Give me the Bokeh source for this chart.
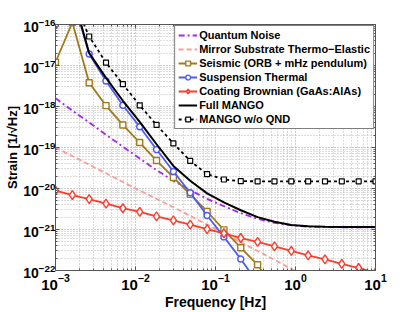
import math
from bokeh.plotting import figure
from bokeh.models import FixedTicker, LogAxis
from bokeh.embed import file_html
from bokeh.resources import INLINE

# ---- data ----
freq = [1.0e-3, 1.625e-3, 2.637e-3, 4.28e-3, 6.95e-3, 1.129e-2, 1.833e-2, 2.976e-2,
        4.83e-2, 7.85e-2, 0.1274, 0.207, 0.336, 0.546, 0.886, 1.438, 2.336, 3.79, 6.16, 10.0]

quantum = [1.6e-18, 7.9e-19, 4.1e-19, 2.04e-19, 1.05e-19, 5.4e-20, 2.8e-20, 1.55e-20,
           9.1e-21, 5.6e-21, 3.7e-21, 2.5e-21, 1.82e-21, 1.45e-21, 1.26e-21, 1.17e-21,
           1.15e-21, 1.135e-21, 1.135e-21, 1.135e-21]
thermo_elastic = [1.0e-19, 6.2e-20, 3.8e-20, 2.35e-20, 1.45e-20, 8.9e-21, 5.6e-21, 3.5e-21,
                  2.15e-21, 1.32e-21, 8.1e-22, 4.9e-22, 3.0e-22, 1.82e-22, 1.1e-22, 6.6e-23]
seismic = [1.2e-17, 1.12e-16, 3.8e-18, 1.05e-18, 3.55e-19, 1.32e-19, 4.8e-20, 1.86e-20,
           7.2e-21, 2.75e-21, 9.8e-22, 3.6e-22, 1.38e-22, 3.5e-23]
suspension = [1.0e-16, 5.0e-16, 1.9e-17, 4.2e-18, 1.07e-18, 3.2e-19, 8.9e-20, 2.6e-20,
              7.9e-21, 2.2e-21, 6.6e-22, 1.9e-22, 5.0e-23, 1.3e-23]
coating = [8.9e-21, 6.9e-21, 5.5e-21, 4.27e-21, 3.3e-21, 2.7e-21, 2.1e-21, 1.66e-21,
           1.32e-21, 1.02e-21, 8.1e-22, 6.2e-22, 5.0e-22, 3.9e-22, 3.0e-22, 2.35e-22,
           1.86e-22, 1.45e-22, 1.15e-22, 8.9e-23]
full_mango = [1.05e-16, 5.6e-16, 2.0e-17, 5.0e-18, 1.38e-18, 4.2e-19, 1.2e-19, 3.55e-20,
              1.55e-20, 7.6e-21, 4.6e-21, 2.95e-21, 2.0e-21, 1.55e-21, 1.29e-21, 1.2e-21,
              1.17e-21, 1.15e-21, 1.15e-21, 1.15e-21]
mango_no_qnd = [2.5e-16, 4.5e-16, 5.1e-17, 1.17e-17, 3.5e-18, 1.07e-18, 3.55e-19, 1.26e-19,
                4.7e-20, 2.25e-20, 1.66e-20, 1.51e-20, 1.5e-20, 1.5e-20, 1.5e-20, 1.5e-20,
                1.5e-20, 1.5e-20, 1.5e-20, 1.5e-20]

x_ticks = [1e-3, 1e-2, 1e-1, 1e0, 1e1]
y_ticks = [1e-22, 1e-21, 1e-20, 1e-19, 1e-18, 1e-17, 1e-16]
mantissas = [2, 3, 4, 5, 6, 7, 8, 9]
x_minor = [m * t for t in x_ticks[:-1] for m in mantissas]
y_minor = [m * t for t in y_ticks[:-1] for m in mantissas]

FONT = "Liberation Sans"

p = figure(x_axis_type="log", y_axis_type="log", x_range=(1e-3, 10), y_range=(1e-22, 1e-16),
           width=415, height=312, output_backend="svg", toolbar_location=None,
           min_border_left=55, min_border_top=24, min_border_right=40, min_border_bottom=38,
           background_fill_color="white", border_fill_color="white")

xt = FixedTicker(ticks=x_ticks, minor_ticks=x_minor)
yt = FixedTicker(ticks=y_ticks, minor_ticks=y_minor)
p.xaxis.ticker = xt
p.yaxis.ticker = yt
p.xgrid.ticker = xt
p.ygrid.ticker = yt

for g in (p.xgrid, p.ygrid):
    g.grid_line_color = "#9a9a9a"
    g.grid_line_dash = "1 2"
    g.grid_line_width = 1
    g.minor_grid_line_color = "#b8b8b8"
    g.minor_grid_line_dash = "1 2"
    g.minor_grid_line_width = 1

AX = "#555555"
for ax in (p.xaxis[0], p.yaxis[0]):
    ax.axis_line_color = AX
    ax.major_tick_line_color = AX
    ax.minor_tick_line_color = AX
    ax.major_tick_in = 4
    ax.major_tick_out = 0
    ax.minor_tick_in = 2
    ax.minor_tick_out = 0
    ax.major_label_text_font = FONT
    ax.major_label_text_font_style = "bold"
    ax.major_label_text_color = "black"
    ax.axis_label_text_font = FONT
    ax.axis_label_text_font_style = "bold"
    ax.axis_label_text_color = "black"

p.xaxis.major_label_text_font_size = "15px"
p.yaxis.major_label_text_font_size = "14px"
p.xaxis.axis_label_text_font_size = "14px"
p.yaxis.axis_label_text_font_size = "13px"
p.xaxis.major_label_standoff = 3
p.yaxis.major_label_standoff = 0
p.xaxis.axis_label = "Frequency [Hz]"
p.xaxis.axis_label_standoff = 1
p.yaxis.axis_label = "Strain [1/√Hz]"
p.yaxis.axis_label_standoff = 0

for loc in ("above", "right"):
    ax = LogAxis(ticker=yt if loc == "right" else xt)
    ax.axis_line_color = AX
    ax.major_tick_line_color = AX
    ax.minor_tick_line_color = AX
    ax.major_tick_in = 4
    ax.major_tick_out = 0
    ax.minor_tick_in = 2
    ax.minor_tick_out = 0
    ax.major_label_text_font_size = "7px"
    ax.major_label_text_alpha = 0
    ax.major_label_standoff = 0
    p.add_layout(ax, loc)

p.outline_line_color = AX

# ---- series ----
p.line(freq[:len(quantum)], quantum, color="#A626EE", line_width=1.8, line_dash="6 3 2 3",
       legend_label="Quantum Noise")
p.line(freq[:len(thermo_elastic)], thermo_elastic, color="#FF9A9A", line_width=1.8,
       line_dash="5 3", legend_label="Mirror Substrate Thermo−Elastic")

f_s = freq[:len(seismic)]
p.line(f_s, seismic, color="#A27A1C", line_width=1.8, legend_label="Seismic (ORB + mHz pendulum)")
p.scatter(f_s, seismic, marker="square", size=6, line_color="#A27A1C", fill_color="white",
          line_width=1.4, legend_label="Seismic (ORB + mHz pendulum)")

f_b = freq[:len(suspension)]
p.line(f_b, suspension, color="#4E5CF2", line_width=1.8, legend_label="Suspension Thermal")
p.scatter(f_b, suspension, marker="circle", size=6, line_color="#4E5CF2", fill_color="white",
          line_width=1.4, legend_label="Suspension Thermal")

p.line(freq, coating, color="#FF3B2A", line_width=1.8, legend_label="Coating Brownian (GaAs:AlAs)")
p.scatter(freq, coating, marker="diamond", size=9, line_color="#FF3B2A", fill_color="white",
          line_width=1.4, legend_label="Coating Brownian (GaAs:AlAs)")

p.line(freq, full_mango, color="black", line_width=2, legend_label="Full MANGO")

p.line(freq, mango_no_qnd, color="black", line_width=1.8, line_dash="3 3",
       legend_label="MANGO w/o QND")
p.scatter(freq, mango_no_qnd, marker="square", size=5, line_color="black", fill_color="white",
          line_width=1.2, legend_label="MANGO w/o QND")

lg = p.legend[0]
lg.location = "top_right"
lg.margin = 1
lg.padding = 3
lg.spacing = 2
lg.label_height = 12
lg.glyph_height = 12
lg.glyph_width = 19
lg.label_standoff = 2
lg.label_text_font = FONT
lg.label_text_font_style = "bold"
lg.label_text_font_size = "11px"
lg.label_text_color = "black"
lg.border_line_color = "black"
lg.border_line_width = 1
lg.background_fill_color = "white"
lg.background_fill_alpha = 1

open("out.html", "w").write(file_html(p, INLINE))
